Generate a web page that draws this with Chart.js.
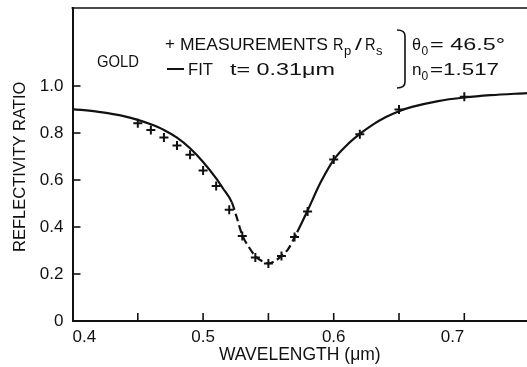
<!DOCTYPE html>
<html>
<head>
<meta charset="utf-8">
<script src="https://cdn.jsdelivr.net/npm/chart.js@4.4.1/dist/chart.umd.min.js"></script>
<style>
  html, body { margin: 0; padding: 0; background: #fff; overflow: hidden; }
  #c { display: block; }
</style>
</head>
<body>
<canvas id="c" width="527" height="367"></canvas>
<script>
// ---- data ----
const measWavelength = [0.45, 0.46, 0.47, 0.48, 0.49, 0.50, 0.51, 0.52, 0.53, 0.54, 0.55, 0.56, 0.57, 0.58, 0.60, 0.62, 0.65, 0.70];
const measRatio      = [0.842, 0.813, 0.781, 0.747, 0.707, 0.640, 0.575, 0.473, 0.362, 0.270, 0.245, 0.277, 0.357, 0.466, 0.687, 0.795, 0.900, 0.954];

const fitWavelength = [0.40, 0.42, 0.44, 0.45, 0.46, 0.47, 0.48, 0.49, 0.50, 0.51, 0.515, 0.522, 0.525, 0.53, 0.535, 0.54, 0.545, 0.55, 0.555, 0.56, 0.565, 0.572, 0.58, 0.59, 0.60, 0.61, 0.62, 0.63, 0.64, 0.65, 0.66, 0.68, 0.70, 0.72, 0.748];
const fitRatio      = [0.902, 0.890, 0.871, 0.856, 0.837, 0.813, 0.780, 0.735, 0.677, 0.607, 0.566, 0.505, 0.455, 0.365, 0.315, 0.276, 0.255, 0.245, 0.255, 0.277, 0.305, 0.378, 0.470, 0.590, 0.686, 0.748, 0.796, 0.836, 0.868, 0.893, 0.911, 0.936, 0.951, 0.961, 0.970];

const dashedRange = [0.522, 0.572];           // fit drawn dashed in the resonance dip
const xTickValues = [0.40, 0.45, 0.50, 0.55, 0.60, 0.65, 0.70];
const xTickLabels = ['0.4', '0.5', '0.6', '0.7'];
const yTickValues = [0, 0.2, 0.4, 0.6, 0.8, 1.0];
const yTickLabels = ['0', '0.2', '0.4', '0.6', '0.8', '1.0'];

const FONT = '"Liberation Sans", Arial, Helvetica, sans-serif';
const INK = '#111';

const measPoints = measWavelength.map((x, i) => ({ x, y: measRatio[i] }));
const fitPoints = fitWavelength.map((x, i) => ({ x, y: fitRatio[i] }));

function fitText(ctx, text, x, y, width) {
  const w = ctx.measureText(text).width;
  ctx.save();
  ctx.translate(x, y);
  ctx.scale(width / w, 1);
  ctx.fillText(text, 0, 0);
  ctx.restore();
}

// inward ticks, top frame line and the legend annotation
const decorPlugin = {
  id: 'decor',
  afterDraw(chart) {
    const ctx = chart.ctx;
    const { left, right, top, bottom } = chart.chartArea;
    const xs = chart.scales.x, ys = chart.scales.y;
    ctx.save();
    ctx.strokeStyle = INK;
    ctx.fillStyle = INK;
    // top frame
    ctx.lineWidth = 1.6;
    ctx.beginPath();
    ctx.moveTo(left - 1, top);
    ctx.lineTo(right, top);
    ctx.stroke();
    // inward ticks
    xs.ticks.forEach(t => {
      if (t.value <= xs.min + 1e-6) return;
      const px = xs.getPixelForValue(t.value);
      ctx.beginPath();
      ctx.moveTo(px, bottom);
      ctx.lineTo(px, bottom - 8);
      ctx.stroke();
    });
    ys.ticks.forEach(t => {
      if (t.value <= ys.min + 1e-6) return;
      const py = ys.getPixelForValue(t.value);
      ctx.beginPath();
      ctx.moveTo(left, py);
      ctx.lineTo(left + 8, py);
      ctx.stroke();
    });

    // annotation text
    const f = (s) => s + 'px ' + FONT;
    ctx.textBaseline = 'alphabetic';
    ctx.textAlign = 'left';
    ctx.font = f(17);
    fitText(ctx, 'GOLD', 97, 66.5, 42);

    // line 1
    ctx.fillText('+', 165, 49);
    fitText(ctx, 'MEASUREMENTS', 180, 50, 148);
    fitText(ctx, 'R', 333, 50, 10.5);
    ctx.font = f(13); ctx.fillText('p', 344, 55);
    ctx.font = f(17); fitText(ctx, '/', 355, 50, 7);
    fitText(ctx, 'R', 365, 50, 10.5);
    ctx.font = f(13); ctx.fillText('s', 376, 55);

    // line 2
    ctx.font = f(17);
    ctx.lineWidth = 2;
    ctx.beginPath(); ctx.moveTo(167, 69); ctx.lineTo(184, 69); ctx.stroke();
    fitText(ctx, 'FIT', 188, 75, 25);
    fitText(ctx, 't= 0.31\u03bcm', 230, 75, 105);

    // bracket
    ctx.lineWidth = 1.6;
    ctx.beginPath();
    ctx.moveTo(397, 30);
    ctx.quadraticCurveTo(405, 30, 405, 36);
    ctx.lineTo(405, 82);
    ctx.quadraticCurveTo(405, 88, 397, 88);
    ctx.stroke();

    // theta / n
    ctx.font = f(17); fitText(ctx, '\u03b8', 412, 50, 9);
    ctx.font = f(12); ctx.fillText('0', 421.5, 55);
    ctx.font = f(17); fitText(ctx, '= 46.5\u00b0', 430, 50, 75);
    fitText(ctx, 'n', 412, 75, 9.5);
    ctx.font = f(12); ctx.fillText('0', 421.5, 80);
    ctx.font = f(17); fitText(ctx, '=1.517', 430, 75, 69);
    ctx.restore();
  }
};

new Chart(document.getElementById('c'), {
  type: 'scatter',
  data: {
    datasets: [
      {
        label: 'FIT',
        type: 'line',
        data: fitPoints,
        borderColor: INK,
        borderWidth: 2.2,
        pointRadius: 0,
        fill: false,
        cubicInterpolationMode: 'monotone',
        segment: {
          borderDash: c => (c.p0.parsed.x >= dashedRange[0] - 1e-9 && c.p1.parsed.x <= dashedRange[1] + 1e-9) ? [8, 4] : undefined
        }
      },
      {
        label: 'MEASUREMENTS',
        data: measPoints,
        showLine: false,
        pointStyle: 'cross',
        pointRadius: 4.5,
        pointBorderWidth: 2,
        borderColor: INK,
        backgroundColor: INK
      }
    ]
  },
  options: {
    responsive: false,
    animation: false,
    layout: { autoPadding: false, padding: { top: 8, right: 0, bottom: 0, left: 0 } },
    plugins: { legend: { display: false }, tooltip: { enabled: false } },
    scales: {
      x: {
        type: 'linear',
        min: 0.4,
        max: 0.748,
        afterBuildTicks(s) { s.ticks = xTickValues.map(v => ({ value: v })); },
        afterFit(s) { s.height = 46; s.paddingLeft = 0; s.paddingRight = 0; },
        grid: { display: false, drawTicks: false },
        border: { display: true, color: INK, width: 2 },
        ticks: {
          align: 'inner',
          padding: 6,
          color: INK,
          font: { family: FONT, size: 17 },
          maxRotation: 0,
          autoSkip: false,
          callback(v) {
            const lbl = Number(v).toFixed(2).replace(/0$/, '');
            return xTickLabels.includes(lbl) ? lbl : '';
          }
        },
        title: {
          display: true,
          text: 'WAVELENGTH (\u03bcm)',
          color: INK,
          font: { family: FONT, size: 17.5 },
          padding: { top: 0, bottom: 1.5 }
        }
      },
      y: {
        type: 'linear',
        min: 0,
        max: 1.332,
        afterBuildTicks(s) { s.ticks = yTickValues.map(v => ({ value: v })); },
        afterFit(s) { s.width = 72.5; s.paddingTop = 0; s.paddingBottom = 0; },
        grid: { display: false, drawTicks: false },
        border: { display: true, color: INK, width: 2 },
        ticks: {
          padding: 9,
          color: INK,
          font: { family: FONT, size: 17 },
          autoSkip: false,
          callback(v) {
            const lbl = Math.abs(v) < 1e-9 ? '0' : Number(v).toFixed(1);
            return yTickLabels.includes(lbl) ? lbl : '';
          }
        },
        title: {
          display: true,
          text: 'REFLECTIVITY RATIO ',
          color: INK,
          font: { family: FONT, size: 16.5 },
          padding: { top: 11, bottom: 0 }
        }
      }
    }
  },
  plugins: [decorPlugin]
});
</script>
</body>
</html>
